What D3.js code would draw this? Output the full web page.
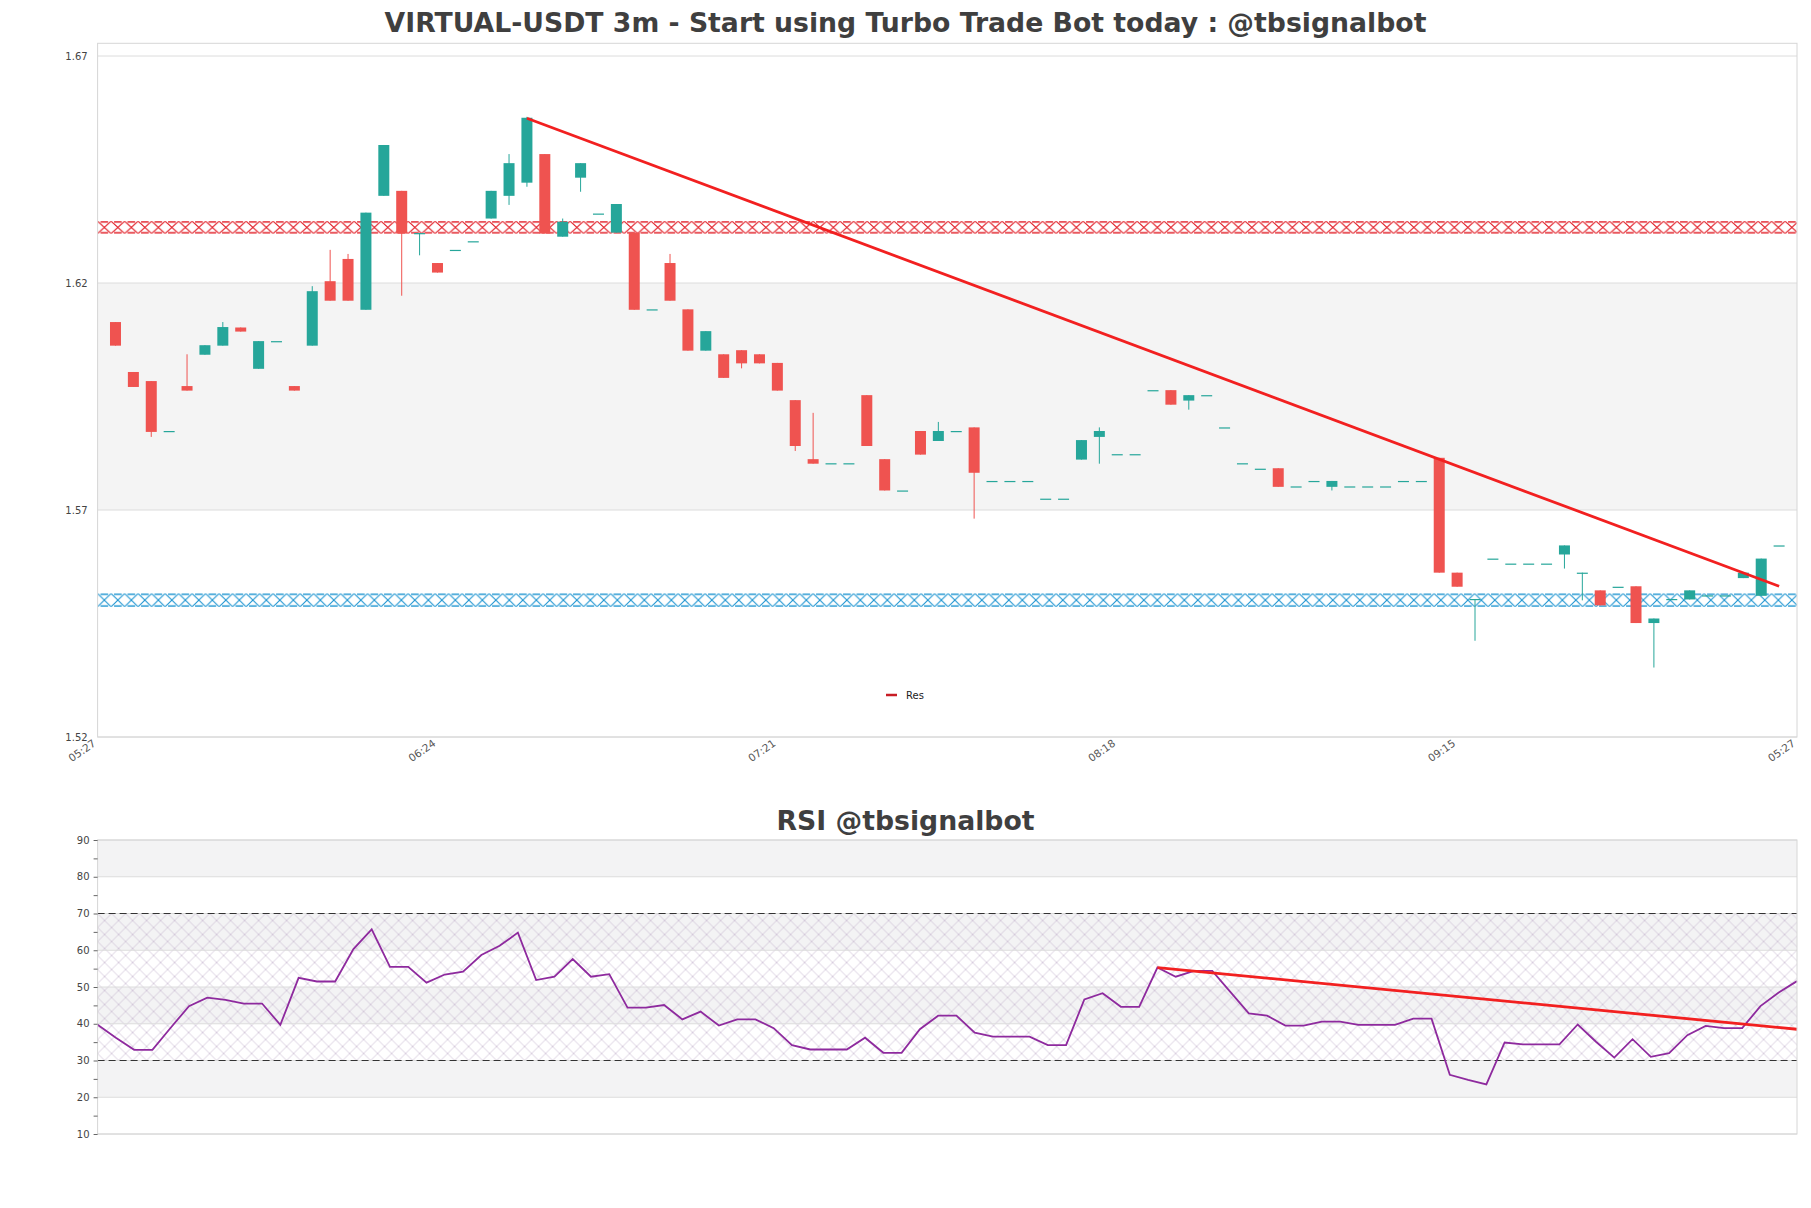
<!DOCTYPE html>
<html>
<head>
<meta charset="utf-8">
<script src="https://cdn.jsdelivr.net/npm/d3@7"></script>
<style>
  body { margin: 0; background: #fff; }
  text { font-family: "DejaVu Sans", sans-serif; }
</style>
</head>
<body>
<div id="chart"></div>
<script>
// ---- data ----
var xTickIdx = [-1, 18, 37, 56, 75, 94]
var xTickLabels = ["05:27", "06:24", "07:21", "08:18", "09:15", "05:27"]
var priceTicks = [1.52, 1.57, 1.62, 1.67]
var rsiTicks = [10, 20, 30, 40, 50, 60, 70, 80, 90]

var candleOpen = [1.6114,1.6004,1.5984,1.5873,1.5973,1.6042,1.6062,1.6102,1.6011,1.6072,
  1.5973,1.6062,1.6204,1.6253,1.6141,1.6392,1.6403,1.6310,1.6244,1.6273,
  1.6292,1.6342,1.6392,1.6421,1.6484,1.6302,1.6432,1.6353,1.6311,1.6311,
  1.6142,1.6244,1.6142,1.6051,1.6043,1.6052,1.6043,1.6024,1.5942,1.5812,
  1.5803,1.5803,1.5953,1.5812,1.5743,1.5874,1.5852,1.5874,1.5882,1.5764,
  1.5764,1.5764,1.5725,1.5725,1.5811,1.5861,1.5823,1.5823,1.5964,1.5964,
  1.5941,1.5953,1.5882,1.5803,1.5791,1.5792,1.5752,1.5764,1.5751,1.5752,
  1.5752,1.5752,1.5764,1.5764,1.5815,1.5562,1.5504,1.5593,1.5582,1.5582,
  1.5582,1.5602,1.5562,1.5523,1.5531,1.5532,1.5451,1.5504,1.5503,1.5512,
  1.5512,1.5550,1.5511,1.5622]
var candleClose = [1.6062,1.5971,1.5872,1.5874,1.5963,1.6063,1.6103,1.6093,1.6072,1.6072,
  1.5963,1.6182,1.6161,1.6161,1.6355,1.6504,1.6309,1.6310,1.6223,1.6273,
  1.6292,1.6403,1.6464,1.6564,1.6309,1.6335,1.6464,1.6353,1.6374,1.6141,
  1.6142,1.6161,1.6051,1.6094,1.5991,1.6023,1.6023,1.5963,1.5841,1.5802,
  1.5803,1.5803,1.5841,1.5743,1.5743,1.5822,1.5874,1.5874,1.5782,1.5764,
  1.5764,1.5764,1.5725,1.5725,1.5854,1.5874,1.5823,1.5823,1.5964,1.5932,
  1.5953,1.5953,1.5882,1.5803,1.5791,1.5751,1.5752,1.5764,1.5764,1.5752,
  1.5752,1.5752,1.5764,1.5764,1.5562,1.5531,1.5504,1.5593,1.5582,1.5582,
  1.5582,1.5622,1.5562,1.5490,1.5531,1.5451,1.5461,1.5504,1.5523,1.5512,
  1.5512,1.5562,1.5593,1.5622]
var candleHigh = [1.6114,1.6004,1.5984,1.5874,1.6043,1.6063,1.6114,1.6102,1.6072,1.6072,
  1.5973,1.6193,1.6273,1.6264,1.6355,1.6504,1.6403,1.6310,1.6244,1.6273,
  1.6292,1.6403,1.6484,1.6566,1.6484,1.6342,1.6464,1.6353,1.6374,1.6311,
  1.6142,1.6264,1.6142,1.6094,1.6043,1.6052,1.6043,1.6024,1.5942,1.5914,
  1.5803,1.5803,1.5953,1.5812,1.5743,1.5874,1.5894,1.5874,1.5882,1.5764,
  1.5764,1.5764,1.5725,1.5725,1.5854,1.5882,1.5823,1.5823,1.5964,1.5964,
  1.5953,1.5953,1.5882,1.5803,1.5791,1.5792,1.5752,1.5764,1.5764,1.5752,
  1.5752,1.5752,1.5764,1.5764,1.5815,1.5562,1.5504,1.5593,1.5582,1.5582,
  1.5582,1.5622,1.5562,1.5523,1.5531,1.5532,1.5461,1.5504,1.5523,1.5512,
  1.5512,1.5562,1.5593,1.5622]
var candleLow = [1.6062,1.5971,1.5861,1.5873,1.5963,1.6042,1.6062,1.6093,1.6011,1.6072,
  1.5963,1.6062,1.6161,1.6161,1.6141,1.6392,1.6172,1.6261,1.6223,1.6273,
  1.6292,1.6342,1.6372,1.6412,1.6309,1.6302,1.6401,1.6353,1.6311,1.6141,
  1.6142,1.6161,1.6051,1.6051,1.5991,1.6012,1.6023,1.5963,1.5830,1.5802,
  1.5803,1.5803,1.5841,1.5743,1.5743,1.5822,1.5852,1.5874,1.5681,1.5764,
  1.5764,1.5764,1.5725,1.5725,1.5811,1.5802,1.5823,1.5823,1.5964,1.5932,
  1.5921,1.5953,1.5882,1.5803,1.5791,1.5751,1.5752,1.5764,1.5743,1.5752,
  1.5752,1.5752,1.5764,1.5764,1.5562,1.5531,1.5412,1.5593,1.5582,1.5582,
  1.5582,1.5571,1.5501,1.5490,1.5531,1.5451,1.5353,1.5504,1.5503,1.5512,
  1.5512,1.5550,1.5511,1.5622]

var rsiValues = [39.7,36.2,32.9,32.9,38.9,44.8,47.1,46.5,45.5,45.5,
  39.7,52.5,51.5,51.5,60.3,65.7,55.5,55.5,51.2,53.4,
  54.2,58.7,61.2,64.8,51.9,52.8,57.6,52.8,53.5,44.4,
  44.4,45.1,41.2,43.3,39.5,41.2,41.2,38.8,34.2,33.0,
  33.0,33.0,36.2,32.1,32.1,38.5,42.2,42.2,37.6,36.5,
  36.5,36.5,34.2,34.2,46.6,48.3,44.6,44.6,55.3,52.8,
  54.4,54.4,48.6,42.8,42.2,39.5,39.5,40.6,40.6,39.7,
  39.7,39.7,41.4,41.4,26.1,24.7,23.5,34.9,34.4,34.4,
  34.4,39.8,35.1,30.8,35.8,31.0,32.0,36.9,39.4,38.8,
  38.8,44.8,48.5,51.6]

var resZone = [1.6309, 1.6336]
var supZone = [1.5487, 1.5516]
var resTrendIdx = [23, 93]
var resTrendVal = [1.6563, 1.5532]
var rsiTrendIdx = [58, 93]
var rsiTrendVal = [55.3, 38.5]
var rsiLevels = [30, 70]

// ---- layout ----
var width = 1811, height = 1208
var left = 97.6, right = 1797
var green = "#26a69a", red = "#ef5350"

var svg = d3.select("#chart").append("svg")
    .attr("width", width)
    .attr("height", height)

var defs = svg.append("defs")

// scales
var x = d3.scaleLinear().domain([-1, 94]).range([left, right])
var y = d3.scaleLinear().domain([1.52, 1.6728]).range([737, 43.3])
var xr = d3.scaleLinear().domain([0, 93]).range([left, right])
var yr = d3.scaleLinear().domain([10, 90]).range([1134, 840])

// hatch pattern for the zones
function zonePattern(id, color, y0, h) {
  var w = 13.5
  var p = defs.append("pattern")
      .attr("id", id)
      .attr("patternUnits", "userSpaceOnUse")
      .attr("x", left).attr("y", y0)
      .attr("width", w).attr("height", h)
  p.append("path")
      .attr("d", `M0,0L${w},${h}M0,${h}L${w},0`)
      .attr("stroke", color).attr("stroke-width", 1.1).attr("fill", "none")
  p.append("path")
      .attr("d", `M${w*0.22},0.75H${w*0.78}M${w*0.22},${h - 0.75}H${w*0.78}`)
      .attr("stroke", color).attr("stroke-width", 1.5).attr("fill", "none")
}

// RSI cross hatch
var rp = defs.append("pattern")
    .attr("id", "rsiHatch")
    .attr("patternUnits", "userSpaceOnUse")
    .attr("x", left).attr("y", yr(70))
    .attr("width", 14).attr("height", 14)
rp.append("path")
    .attr("d", "M0,0L14,14M0,14L14,0")
    .attr("stroke", "#c2b2cb").attr("stroke-width", 0.6).attr("fill", "none")
rp.append("circle").attr("cx", 7).attr("cy", 7).attr("r", 0.6).attr("fill", "#d0c2d8")

// ---- main chart ----
var main = svg.append("g")

// alternating bands
main.selectAll("rect.band")
  .data(d3.pairs(priceTicks).filter((d, i) => i % 2 == 1))
  .join("rect")
    .attr("class", "band")
    .attr("x", left).attr("width", right - left)
    .attr("y", d => y(d[1])).attr("height", d => y(d[0]) - y(d[1]))
    .attr("fill", "#f4f4f4")

// gridlines
main.selectAll("line.grid")
  .data(priceTicks)
  .join("line")
    .attr("x1", left).attr("x2", right)
    .attr("y1", d => y(d)).attr("y2", d => y(d))
    .attr("stroke", "#dcdcdc").attr("stroke-width", 1)

// zones
var zones = [{v: resZone, c: "#e0161f", id: "hatchRes"}, {v: supZone, c: "#1a93d0", id: "hatchSup"}]
zones.forEach(function(z) {
  var y0 = y(z.v[1]), h = y(z.v[0]) - y(z.v[1])
  zonePattern(z.id, z.c, y0, h)
  main.append("rect")
      .attr("x", left).attr("width", right - left)
      .attr("y", y0).attr("height", h)
      .attr("fill", "url(#" + z.id + ")")
})

// candles
var candles = candleOpen.map((o, i) => ({i: i, o: o, c: candleClose[i], h: candleHigh[i], l: candleLow[i]}))
var bw = 11

main.selectAll("line.wick")
  .data(candles)
  .join("line")
    .attr("x1", d => x(d.i)).attr("x2", d => x(d.i))
    .attr("y1", d => y(d.h)).attr("y2", d => y(d.l))
    .attr("stroke", d => d.c >= d.o ? green : red)
    .attr("stroke-width", 1)

main.selectAll("rect.body")
  .data(candles)
  .join("rect")
    .attr("x", d => x(d.i) - bw / 2)
    .attr("width", bw)
    .attr("y", d => y(Math.max(d.o, d.c)))
    .attr("height", d => Math.max(1.2, Math.abs(y(d.o) - y(d.c))))
    .attr("fill", d => d.c >= d.o ? green : red)

// resistance trendline
main.append("line")
    .attr("x1", x(resTrendIdx[0])).attr("y1", y(resTrendVal[0]))
    .attr("x2", x(resTrendIdx[1])).attr("y2", y(resTrendVal[1]))
    .attr("stroke", "#f22020").attr("stroke-width", 2.8)

// frame
main.append("rect")
    .attr("x", left).attr("y", 43.3)
    .attr("width", right - left).attr("height", 737 - 43.3)
    .attr("fill", "none").attr("stroke", "#d6d6d6").attr("stroke-width", 1)

// y labels
main.append("g")
    .attr("transform", `translate(${left},0)`)
    .call(d3.axisLeft(y).tickValues(priceTicks).tickSize(0).tickPadding(10).tickFormat(d3.format(".2f")))
    .call(g => g.select(".domain").remove())
    .selectAll("text")
    .attr("font-size", 10).attr("fill", "#444")
    .style("font-family", "DejaVu Sans")

// x labels
main.selectAll("text.xl")
  .data(xTickIdx)
  .join("text")
    .attr("transform", d => `translate(${x(d) - 1},745) rotate(-35)`)
    .attr("text-anchor", "end")
    .attr("font-size", 10.5)
    .attr("fill", "#555")
    .text((d, i) => xTickLabels[i])

// legend
main.append("line")
    .attr("x1", 886).attr("x2", 897).attr("y1", 695).attr("y2", 695)
    .attr("stroke", "#c81d25").attr("stroke-width", 2.5)
main.append("text")
    .attr("x", 906).attr("y", 698.5)
    .attr("font-size", 10).attr("fill", "#222")
    .text("Res")

// title
svg.append("text")
    .attr("x", width / 2).attr("y", 32)
    .attr("text-anchor", "middle")
    .attr("font-size", 26.7).attr("font-weight", "bold").attr("fill", "#3f3f3f")
    .text("VIRTUAL-USDT 3m - Start using Turbo Trade Bot today : @tbsignalbot")

// ---- RSI chart ----
var rsi = svg.append("g")

rsi.selectAll("rect.band")
  .data(d3.pairs(rsiTicks).filter((d, i) => i % 2 == 1))
  .join("rect")
    .attr("x", left).attr("width", right - left)
    .attr("y", d => yr(d[1])).attr("height", d => yr(d[0]) - yr(d[1]))
    .attr("fill", "#f3f3f4")

rsi.append("rect")
    .attr("x", left).attr("width", right - left)
    .attr("y", yr(rsiLevels[1])).attr("height", yr(rsiLevels[0]) - yr(rsiLevels[1]))
    .attr("fill", "url(#rsiHatch)")

rsi.selectAll("line.grid")
  .data(rsiTicks)
  .join("line")
    .attr("x1", left).attr("x2", right)
    .attr("y1", d => yr(d)).attr("y2", d => yr(d))
    .attr("stroke", "#dcdcdc").attr("stroke-width", 1)

rsi.selectAll("line.lvl")
  .data(rsiLevels)
  .join("line")
    .attr("x1", left).attr("x2", right)
    .attr("y1", d => yr(d)).attr("y2", d => yr(d))
    .attr("stroke", "#333").attr("stroke-width", 1.2)
    .attr("stroke-dasharray", "7,4")

rsi.append("path")
    .datum(rsiValues)
    .attr("d", d3.line().x((d, i) => xr(i)).y(d => yr(d)))
    .attr("fill", "none")
    .attr("stroke", "#8e2a9e")
    .attr("stroke-width", 1.8)

rsi.append("line")
    .attr("x1", xr(rsiTrendIdx[0])).attr("y1", yr(rsiTrendVal[0]))
    .attr("x2", xr(rsiTrendIdx[1])).attr("y2", yr(rsiTrendVal[1]))
    .attr("stroke", "#f22020").attr("stroke-width", 2.8)

rsi.append("rect")
    .attr("x", left).attr("y", yr(90))
    .attr("width", right - left).attr("height", yr(10) - yr(90))
    .attr("fill", "none").attr("stroke", "#d6d6d6").attr("stroke-width", 1)

// y axis with minor ticks
rsi.append("g")
    .attr("transform", `translate(${left},0)`)
    .call(d3.axisLeft(yr).tickValues(d3.range(10, 91, 5)).tickSize(4).tickPadding(4)
      .tickFormat(d => d % 10 == 0 ? d : ""))
    .call(g => g.select(".domain").remove())
    .call(g => g.selectAll("line").attr("stroke", "#666"))
    .selectAll("text")
    .attr("font-size", 10).attr("fill", "#444")
    .style("font-family", "DejaVu Sans")

svg.append("text")
    .attr("x", width / 2).attr("y", 829.5)
    .attr("text-anchor", "middle")
    .attr("font-size", 26.7).attr("font-weight", "bold").attr("fill", "#3f3f3f")
    .text("RSI @tbsignalbot")
</script>
</body>
</html>
